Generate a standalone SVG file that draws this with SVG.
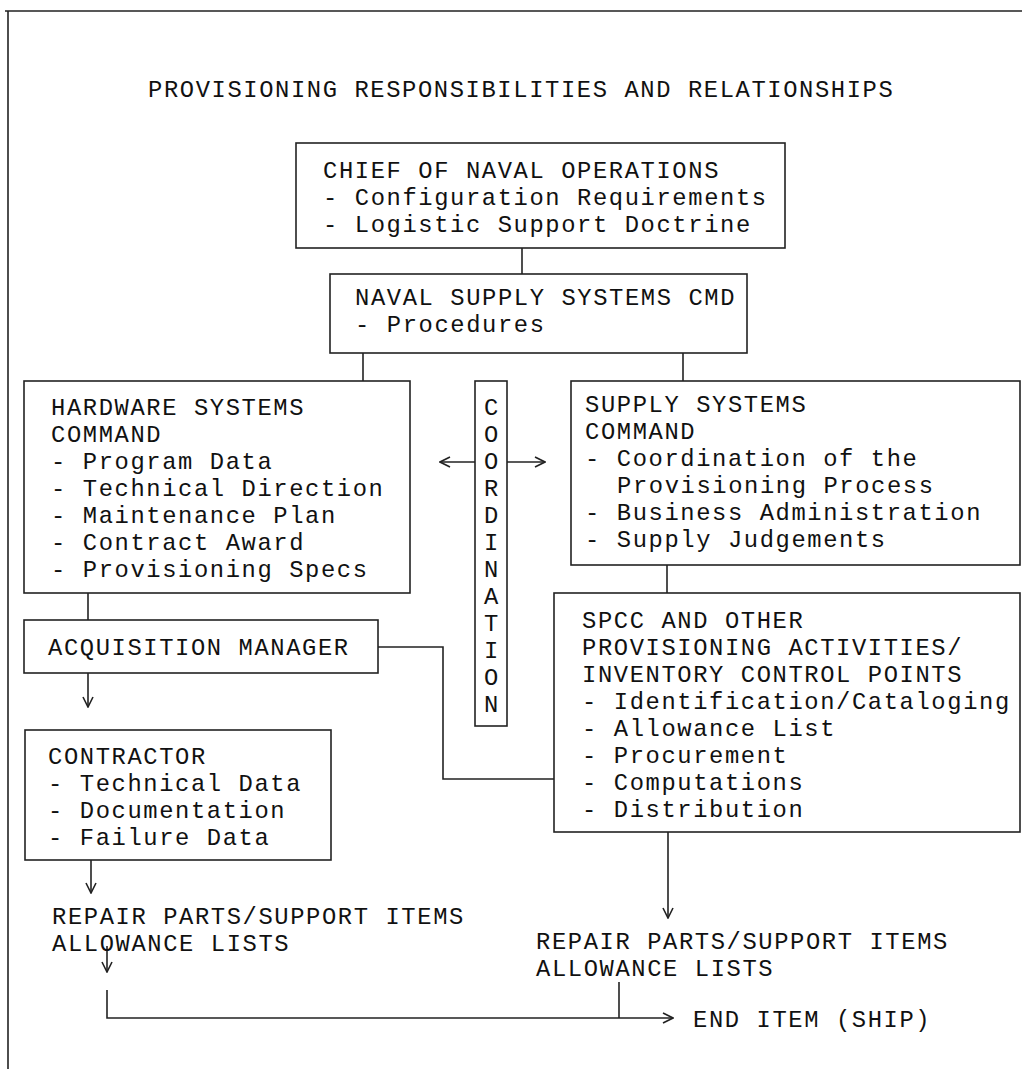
<svg xmlns="http://www.w3.org/2000/svg" width="1022" height="1069" viewBox="0 0 1022 1069">
<style>
text{font-family:"Liberation Mono","Courier New",monospace;font-size:23.8px;letter-spacing:1.6px;fill:#111}
.box{fill:none;stroke:#222;stroke-width:1.6}
.ln{fill:none;stroke:#222;stroke-width:1.6}
.mid{text-anchor:middle}
</style>
<defs>
<marker id="open" viewBox="0 0 12 12" refX="11" refY="6" markerWidth="12" markerHeight="12" markerUnits="userSpaceOnUse" orient="auto">
<path d="M1,1 L11,6 L1,11" fill="none" stroke="#222" stroke-width="1.6"/>
</marker>
</defs>
<rect width="1022" height="1069" fill="#fff"/>
<path class="ln" d="M5,11 H1022 M8,11 V1069"/>
<text id="title" x="148" y="97">PROVISIONING RESPONSIBILITIES AND RELATIONSHIPS</text>

<g id="connectors">
<path class="ln" d="M522,248 V274"/>
<path class="ln" d="M363,353 V381"/>
<path class="ln" d="M683,353 V381"/>
<path class="ln" d="M88,593 V620"/>
<path class="ln" d="M667,565 V593"/>
<path class="ln" d="M475,462 H440" marker-end="url(#open)"/>
<path class="ln" d="M507,462 H545" marker-end="url(#open)"/>
<path class="ln" d="M378,647 H443 V779 H554"/>
<path class="ln" d="M88,673 V707" marker-end="url(#open)"/>
<path class="ln" d="M91,860 V893" marker-end="url(#open)"/>
<path class="ln" d="M107,946 V972" marker-end="url(#open)"/>
<path class="ln" d="M107,990 V1018 H673" marker-end="url(#open)"/>
<path class="ln" d="M668,832 V918" marker-end="url(#open)"/>
<path class="ln" d="M619,982 V1018"/>
</g>

<g id="cno">
<rect class="box" x="296" y="143" width="489" height="105"/>
<text x="323" y="178">CHIEF OF NAVAL OPERATIONS</text>
<text x="323" y="205">- Configuration Requirements</text>
<text x="323" y="232">- Logistic Support Doctrine</text>
</g>

<g id="navsup">
<rect class="box" x="330" y="274" width="417" height="79"/>
<text x="355" y="305">NAVAL SUPPLY SYSTEMS CMD</text>
<text x="355" y="332">- Procedures</text>
</g>

<g id="hsc">
<rect class="box" x="24" y="381" width="386" height="212"/>
<text x="51" y="415">HARDWARE SYSTEMS</text>
<text x="51" y="442">COMMAND</text>
<text x="51" y="469">- Program Data</text>
<text x="51" y="496">- Technical Direction</text>
<text x="51" y="523">- Maintenance Plan</text>
<text x="51" y="550">- Contract Award</text>
<text x="51" y="577">- Provisioning Specs</text>
</g>

<g id="coordination">
<rect class="box" x="475" y="381" width="32" height="345"/>
<text class="mid" x="492" y="415">C</text>
<text class="mid" x="492" y="442">O</text>
<text class="mid" x="492" y="469">O</text>
<text class="mid" x="492" y="496">R</text>
<text class="mid" x="492" y="523">D</text>
<text class="mid" x="492" y="550">I</text>
<text class="mid" x="492" y="577">N</text>
<text class="mid" x="492" y="604">A</text>
<text class="mid" x="492" y="631">T</text>
<text class="mid" x="492" y="658">I</text>
<text class="mid" x="492" y="685">O</text>
<text class="mid" x="492" y="712">N</text>
</g>

<g id="ssc">
<rect class="box" x="571" y="381" width="449" height="184"/>
<text x="585" y="412">SUPPLY SYSTEMS</text>
<text x="585" y="439">COMMAND</text>
<text x="585" y="466">- Coordination of the</text>
<text x="617" y="493">Provisioning Process</text>
<text x="585" y="520">- Business Administration</text>
<text x="585" y="547">- Supply Judgements</text>
</g>

<g id="acq">
<rect class="box" x="24" y="620" width="354" height="53"/>
<text x="48" y="655">ACQUISITION MANAGER</text>
</g>

<g id="spcc">
<rect class="box" x="554" y="593" width="466" height="239"/>
<text x="582" y="628">SPCC AND OTHER</text>
<text x="582" y="655">PROVISIONING ACTIVITIES/</text>
<text x="582" y="682">INVENTORY CONTROL POINTS</text>
<text x="582" y="709">- Identification/Cataloging</text>
<text x="582" y="736">- Allowance List</text>
<text x="582" y="763">- Procurement</text>
<text x="582" y="790">- Computations</text>
<text x="582" y="817">- Distribution</text>
</g>

<g id="contractor">
<rect class="box" x="25" y="730" width="306" height="130"/>
<text x="48" y="764">CONTRACTOR</text>
<text x="48" y="791">- Technical Data</text>
<text x="48" y="818">- Documentation</text>
<text x="48" y="845">- Failure Data</text>
</g>

<g id="repair-left">
<text x="52" y="924">REPAIR PARTS/SUPPORT ITEMS</text>
<text x="52" y="951">ALLOWANCE LISTS</text>
</g>

<g id="repair-right">
<text x="536" y="949">REPAIR PARTS/SUPPORT ITEMS</text>
<text x="536" y="976">ALLOWANCE LISTS</text>
</g>

<g id="end-item">
<text x="693" y="1027">END ITEM (SHIP)</text>
</g>
</svg>
